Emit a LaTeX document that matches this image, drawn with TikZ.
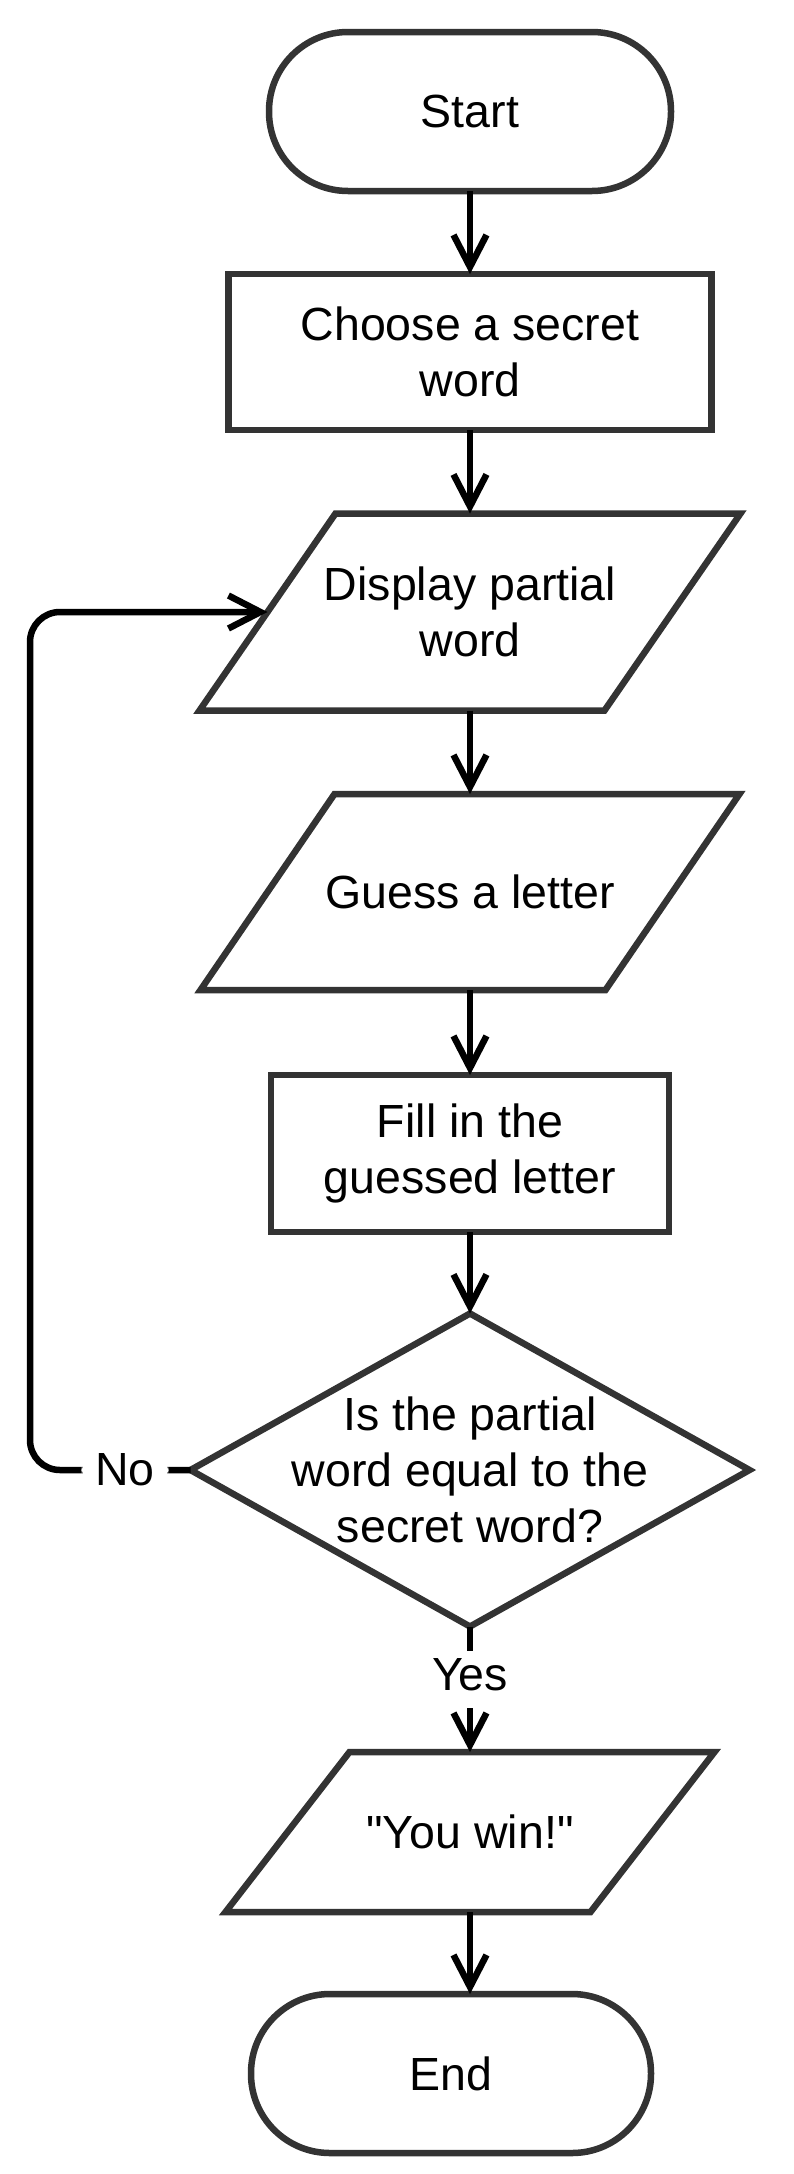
\documentclass[tikz,border=0pt]{standalone}
\usepackage{fontspec}
\setmainfont{Liberation Sans}[Ligatures=TeXOff]
\usetikzlibrary{arrows.meta,calc}
\definecolor{shapegray}{HTML}{333333}
\begin{document}
\begin{tikzpicture}[x=1pt,y=-1pt,
  txt/.style={inner sep=0pt,outer sep=0pt,align=center,text=black,
    font=\fontsize{46.5}{56}\selectfont},
  procbox/.style={txt,rectangle,draw=shapegray,line width=6.5pt},
  termbox/.style={procbox,rounded corners=79pt},
  ghost/.style={txt,rectangle},
  outline/.style={draw=shapegray,line width=6.5pt,line join=miter},
  conn/.style={draw=black,line width=6.5pt,-{Straight Barb[length=32pt,width=33pt]}},
  lbl/.style={txt,fill=white,inner xsep=14pt,inner ysep=8pt}]
\useasboundingbox (0,0) rectangle (794,2174);

\node[termbox,minimum width=402pt,minimum height=159pt] (start) at (470,111.5) {Start};
\node[procbox,minimum width=483pt,minimum height=156pt] (choose) at (470,352) {Choose a secret\\word};
\node[ghost,minimum width=405pt,minimum height=197pt] (disp) at (470,612) {Display partial\\word};
\node[ghost,minimum width=405pt,minimum height=196pt] (guess) at (470,892) {Guess a letter};
\node[procbox,minimum width=398pt,minimum height=157pt] (fill) at (470,1153.5) {Fill in the\\guessed letter};
\node[ghost,minimum width=559pt,minimum height=313pt] (dec) at (470,1470) {Is the partial\\word equal to the\\secret word?};
\node[ghost,minimum width=365pt,minimum height=160pt] (win) at (470,1832) {"You win!"};
\node[termbox,minimum width=400pt,minimum height=159pt] (end) at (451,2073.5) {End};

% parallelograms and diamond outlines
\draw[outline] ([xshift=68pt]disp.north west) -- ([xshift=68pt]disp.north east)
  -- ([xshift=-68pt]disp.south east) -- ([xshift=-68pt]disp.south west) -- cycle;
\draw[outline] ([xshift=67pt]guess.north west) -- ([xshift=67pt]guess.north east)
  -- ([xshift=-67pt]guess.south east) -- ([xshift=-67pt]guess.south west) -- cycle;
\draw[outline] ([xshift=62pt]win.north west) -- ([xshift=62pt]win.north east)
  -- ([xshift=-62pt]win.south east) -- ([xshift=-62pt]win.south west) -- cycle;
\draw[outline] (dec.north) -- (dec.east) -- (dec.south) -- (dec.west) -- cycle;

% connectors
\draw[conn] (start.south) -- (choose.north);
\draw[conn] (choose.south) -- (disp.north);
\draw[conn] (disp.south) -- (guess.north);
\draw[conn] (guess.south) -- (fill.north);
\draw[conn] (fill.south) -- (dec.north);
\draw[conn] (dec.south) -- node[lbl,text depth=9pt,pos=0.42]{Yes} (win.north);
\draw[conn] (win.south) -- (win.south |- end.north);
\coordinate (loopc) at (30,1470);
\draw[conn,rounded corners=30pt] (dec.west) -- node[lbl,pos=0.408]{No} (loopc) |- (disp.west);
\end{tikzpicture}
\end{document}
